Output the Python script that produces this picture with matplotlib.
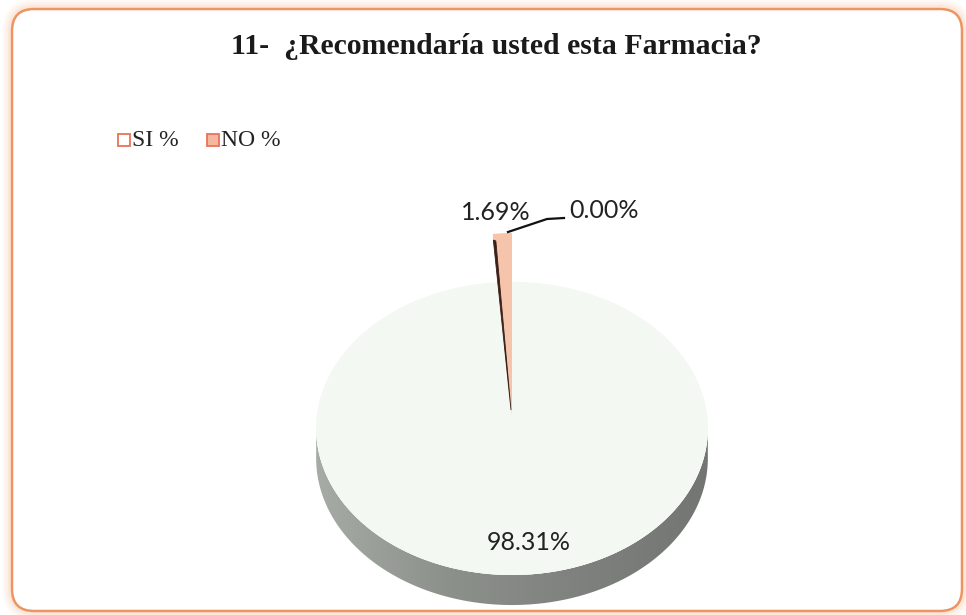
import numpy as np
import matplotlib
matplotlib.use("Agg")
import matplotlib.pyplot as plt
from matplotlib.patches import Polygon, FancyBboxPatch, Rectangle
from matplotlib.colors import LinearSegmentedColormap

# ---- data ----
title = "11-  ¿Recomendaría usted esta Farmacia?"
categories = ["SI %", "NO %"]
values = [98.31, 1.69, 0.00]
value_labels = ["98.31%", "1.69%", "0.00%"]

# ---- styling ----
top_color = "#f4f8f2"
no_color = "#f6c4ab"
legend_face = ["#ffffff", "#f5b89e"]
legend_edge = ["#e8735a", "#e8735a"]

W, H = 966, 615
fig = plt.figure(figsize=(W / 100, H / 100), dpi=100)
ax = fig.add_axes([0, 0, 1, 1])
ax.set_xlim(0, W)
ax.set_ylim(H, 0)
ax.axis("off")

# frame with soft orange glow
for lw, a in [(14, 0.06), (10, 0.08), (6, 0.12)]:
    ax.add_patch(FancyBboxPatch((12, 9), 950, 602, boxstyle="round,pad=0,rounding_size=22",
                                fc="none", ec="#f7a66f", lw=lw, alpha=a, zorder=1))
ax.add_patch(FancyBboxPatch((12, 9), 950, 602, boxstyle="round,pad=0,rounding_size=22",
                            fc="white", ec="#ee9462", lw=1.8, zorder=2))

# title
ax.text(496, 46, title, ha="center", va="center", fontsize=21.4, fontweight="bold",
        family="Liberation Serif", color="#1a1a1a", zorder=5)

# legend
lx = [118, 207]
for i, cat in enumerate(categories):
    ax.add_patch(Rectangle((lx[i], 134), 12, 12, fc=legend_face[i], ec=legend_edge[i], lw=1.3, zorder=5))
    ax.text(lx[i] + 14, 141, cat, ha="left", va="center", fontsize=17,
            family="Liberation Serif", color="#222222", zorder=5)

# pie geometry (simple perspective projection of a disk)
cx, cy = 512, 415
A, B, k = 195, 145.3, 0.092
depth = 30


def proj(theta_deg, r=1.0, dz=0.0):
    t = np.radians(theta_deg)
    u, v = r * np.cos(t), r * np.sin(t)
    w = 1 + k * v
    return cx + A * u / w, cy - B * v / w + dz


total = sum(values)
cum = np.concatenate([[0], np.cumsum(values)]) / total
starts = 90 - 360 * cum[:-1]
ends = 90 - 360 * cum[1:]

# side band (visible front part)
a_s = np.degrees(np.arcsin(k))
th = np.linspace(180 + a_s, 360 - a_s, 240)
xt, yt = proj(th)
xb, yb = proj(th, dz=depth)
side = np.concatenate([np.c_[xt, yt], np.c_[xb[::-1], yb[::-1]]])
side_poly = Polygon(side, closed=True, fc="none", ec="none", zorder=3)
ax.add_patch(side_poly)
grad = np.linspace(0, 1, 256)[None, :]
cmap = LinearSegmentedColormap.from_list("side", ["#a7aca6", "#8d918c", "#7e817d", "#737573"])
im = ax.imshow(grad, extent=[cx - A - 5, cx + A + 5, cy + 200, cy - 50], cmap=cmap,
               aspect="auto", zorder=3, interpolation="bilinear")
im.set_clip_path(side_poly)

# top face (full disk outline) and SI slice
th_all = np.linspace(0, 360, 400)
xf, yf = proj(th_all)
ax.add_patch(Polygon(np.c_[xf, yf], closed=True, fc=top_color, ec="none", zorder=4))
th_si = np.linspace(ends[0], starts[0], 400)
xs, ys = proj(th_si)
ax.add_patch(Polygon(np.r_[[[cx, cy]], np.c_[xs, ys]], closed=True, fc=top_color,
                     ec="none", zorder=4))

# NO slice, standing up
rn = 182
th_no = np.radians(np.linspace(ends[1], starts[1], 20))
pts_no = np.r_[[[cx, cy]], np.c_[cx + rn * np.cos(th_no), cy - rn * np.sin(th_no)]]
ax.add_patch(Polygon(pts_no, closed=True, fc=no_color, ec="none", zorder=5))
# dark side of the NO slice (left edge)
a0 = np.radians(starts[1])
edge = [(cx - 1, cy - 5), (cx + (rn - 6) * np.cos(a0), cy - (rn - 6) * np.sin(a0)),
        (cx + (rn - 6) * np.cos(a0) + 2.5, cy - (rn - 6) * np.sin(a0) + 1)]
ax.add_patch(Polygon(edge, closed=True, fc="#3a2018", ec="#3a2018", lw=0.6, zorder=6))

# labels
ax.text(529, 543, value_labels[0], ha="center", va="center", fontsize=18,
        family="Lato", color="#222222", zorder=7)
ax.text(496, 213, value_labels[1], ha="center", va="center", fontsize=18,
        family="Lato", color="#222222", zorder=7)
ax.text(604, 211, value_labels[2], ha="center", va="center", fontsize=18,
        family="Lato", color="#222222", zorder=7)
a_top = np.radians(starts[2])
ax.plot([cx + rn * np.cos(a_top) - 4, 547, 564],
        [cy - rn * np.sin(a_top) - 1, 219, 218], color="#111111", lw=1.6, zorder=7)

fig.savefig("out.png", dpi=100)
